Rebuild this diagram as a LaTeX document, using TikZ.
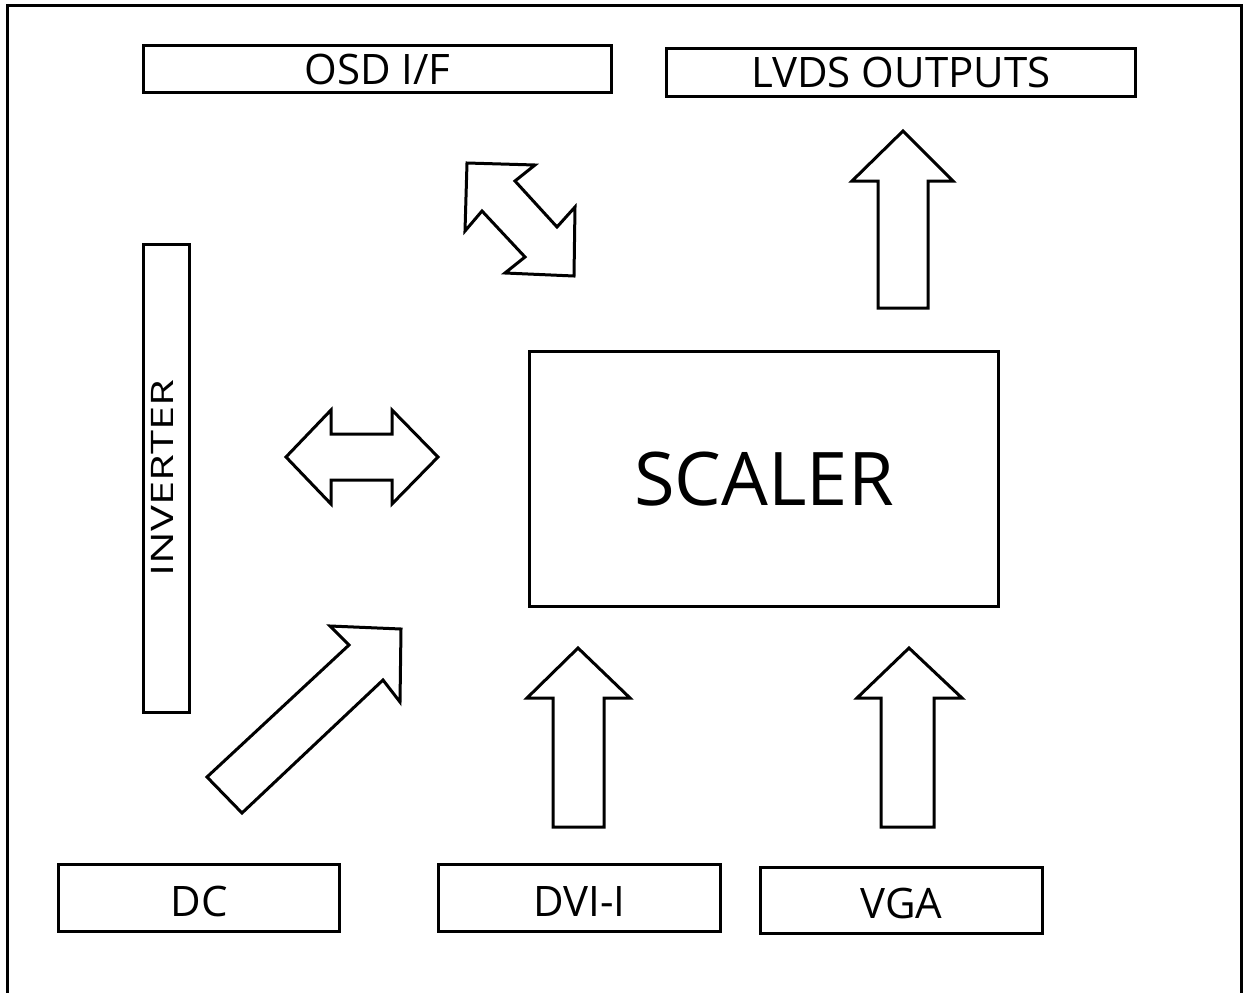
\documentclass[tikz,border=0pt]{standalone}
\usepackage{fontspec}
\setmainfont{Open Sans}
\begin{document}
\begin{tikzpicture}[x=1pt,y=-1pt,
  box/.style={draw, line width=3pt, inner sep=0pt, font=\fontsize{42}{50}\selectfont},
  lowtext/.style={text height=36pt, text depth=0pt},
  blk/.style={draw, line width=3pt, line join=miter, fill=white}]
\useasboundingbox (0,0) rectangle (1248,993);
\coordinate (fbl) at (7.5,996);
\coordinate (ftl) at (7.5,5);
\coordinate (ftr) at (1241,5);
\coordinate (fbr) at (1241,996);
\draw[line width=3pt] (fbl) -- (ftl) -- (ftr) -- (fbr);

\node[box, minimum width=468pt, minimum height=47pt] (osd) at (377.5,69) {OSD I/F};
\node[box, minimum width=469pt, minimum height=48pt] (lvds) at (901,72.5) {LVDS OUTPUTS};
\node[box, minimum width=46pt, minimum height=468pt] (inv) at (166.5,478.5) {};
\node[rotate=90, inner sep=0pt, font=\fontsize{31}{36}\selectfont] (invt) at (162,478) {\scalebox{1.4}[1]{INVERTER}};
\node[box, minimum width=469pt, minimum height=255pt, font=\fontsize{74}{88}\selectfont] (scaler) at (764,479) {SCALER};
\node[box, lowtext, minimum width=281pt, minimum height=67pt] (dc) at (199,898) {DC};
\node[box, lowtext, minimum width=282pt, minimum height=67pt] (dvi) at (579.5,898) {DVI-I};
\node[box, lowtext, minimum width=282pt, minimum height=66pt] (vga) at (901.5,900.5) {VGA};

% block arrows
\draw[blk] (903,131) -- (953,181) -- (928,181) -- (928,308) -- (878,308) -- (878,181) -- (852,181) -- cycle;
\draw[blk] (578,648) -- (630,698) -- (604,698) -- (604,827) -- (553,827) -- (553,698) -- (527,698) -- cycle;
\draw[blk] (909,648) -- (962,698) -- (934,698) -- (934,827) -- (881,827) -- (881,698) -- (857,698) -- cycle;
\draw[blk] (286,457) -- (331,410) -- (331,434) -- (392,434) -- (392,410) -- (438,457) -- (392,504) -- (392,480) -- (331,480) -- (331,504) -- cycle;
\draw[blk] (467,163) -- (535,165) -- (515,181) -- (557,227) -- (575,207) -- (574,276) -- (505,273) -- (525,257) -- (482,211) -- (465,231) -- cycle;
\draw[blk] (401,629) -- (330,626) -- (349,645) -- (207,777) -- (242,813) -- (383,680) -- (400,702) -- cycle;
\end{tikzpicture}
\end{document}
